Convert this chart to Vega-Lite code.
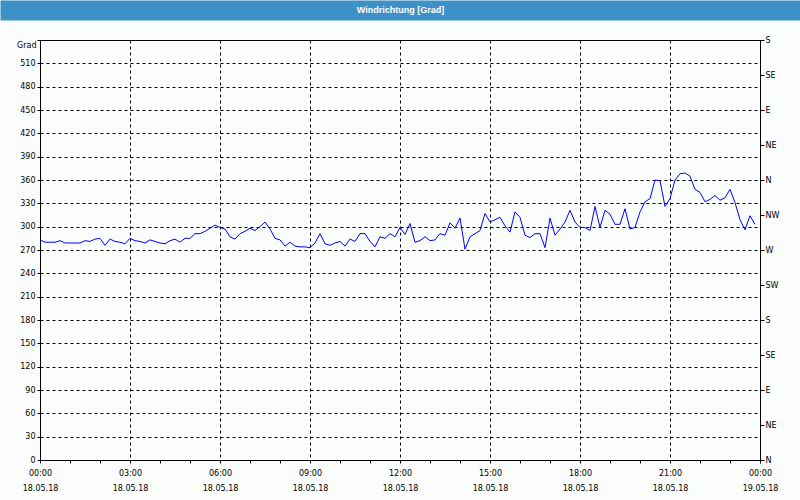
{
  "$schema": "https://vega.github.io/schema/vega-lite/v6.json",
  "autosize": "none",
  "width": 720,
  "height": 420,
  "padding": {"left": 40, "top": 40, "right": 40, "bottom": 40},
  "background": "#fafdfb",
  "config": {
    "view": {"stroke": "#000000", "strokeWidth": 1},
    "axis": {
      "labelFont": "DejaVu Sans",
      "labelFontSize": 8,
      "labelColor": "#000000",
      "titleFont": "DejaVu Sans",
      "titleFontSize": 8,
      "titleFontWeight": "normal",
      "titleColor": "#000000",
      "domainColor": "#000000",
      "tickColor": "#000000",
      "gridColor": "#000000",
      "gridDash": [3, 3],
      "gridOpacity": 1,
      "gridWidth": 1
    }
  },
  "data": {
    "values": [
      {"t": "2018-05-18T00:00", "v": 283}, {"t": "2018-05-18T00:10", "v": 280}, {"t": "2018-05-18T00:20", "v": 280}, {"t": "2018-05-18T00:30", "v": 280},
      {"t": "2018-05-18T00:40", "v": 282}, {"t": "2018-05-18T00:50", "v": 279}, {"t": "2018-05-18T01:00", "v": 279}, {"t": "2018-05-18T01:10", "v": 279},
      {"t": "2018-05-18T01:20", "v": 279}, {"t": "2018-05-18T01:30", "v": 282}, {"t": "2018-05-18T01:40", "v": 281}, {"t": "2018-05-18T01:50", "v": 284},
      {"t": "2018-05-18T02:00", "v": 285}, {"t": "2018-05-18T02:10", "v": 276}, {"t": "2018-05-18T02:20", "v": 284}, {"t": "2018-05-18T02:30", "v": 281},
      {"t": "2018-05-18T02:40", "v": 280}, {"t": "2018-05-18T02:50", "v": 278}, {"t": "2018-05-18T03:00", "v": 285}, {"t": "2018-05-18T03:10", "v": 282},
      {"t": "2018-05-18T03:20", "v": 281}, {"t": "2018-05-18T03:30", "v": 279}, {"t": "2018-05-18T03:40", "v": 283}, {"t": "2018-05-18T03:50", "v": 281},
      {"t": "2018-05-18T04:00", "v": 279}, {"t": "2018-05-18T04:10", "v": 278}, {"t": "2018-05-18T04:20", "v": 282}, {"t": "2018-05-18T04:30", "v": 284},
      {"t": "2018-05-18T04:40", "v": 280}, {"t": "2018-05-18T04:50", "v": 285}, {"t": "2018-05-18T05:00", "v": 285}, {"t": "2018-05-18T05:10", "v": 291},
      {"t": "2018-05-18T05:20", "v": 291}, {"t": "2018-05-18T05:30", "v": 294}, {"t": "2018-05-18T05:40", "v": 298}, {"t": "2018-05-18T05:50", "v": 302},
      {"t": "2018-05-18T06:00", "v": 299}, {"t": "2018-05-18T06:10", "v": 297}, {"t": "2018-05-18T06:20", "v": 287}, {"t": "2018-05-18T06:30", "v": 284},
      {"t": "2018-05-18T06:40", "v": 291}, {"t": "2018-05-18T06:50", "v": 294}, {"t": "2018-05-18T07:00", "v": 298}, {"t": "2018-05-18T07:10", "v": 295},
      {"t": "2018-05-18T07:20", "v": 300}, {"t": "2018-05-18T07:30", "v": 306}, {"t": "2018-05-18T07:40", "v": 297}, {"t": "2018-05-18T07:50", "v": 285},
      {"t": "2018-05-18T08:00", "v": 283}, {"t": "2018-05-18T08:10", "v": 275}, {"t": "2018-05-18T08:20", "v": 280}, {"t": "2018-05-18T08:30", "v": 275},
      {"t": "2018-05-18T08:40", "v": 274}, {"t": "2018-05-18T08:50", "v": 274}, {"t": "2018-05-18T09:00", "v": 273}, {"t": "2018-05-18T09:10", "v": 279},
      {"t": "2018-05-18T09:20", "v": 291}, {"t": "2018-05-18T09:30", "v": 278}, {"t": "2018-05-18T09:40", "v": 276}, {"t": "2018-05-18T09:50", "v": 279},
      {"t": "2018-05-18T10:00", "v": 281}, {"t": "2018-05-18T10:10", "v": 275}, {"t": "2018-05-18T10:20", "v": 284}, {"t": "2018-05-18T10:30", "v": 281},
      {"t": "2018-05-18T10:40", "v": 291}, {"t": "2018-05-18T10:50", "v": 291}, {"t": "2018-05-18T11:00", "v": 281}, {"t": "2018-05-18T11:10", "v": 274},
      {"t": "2018-05-18T11:20", "v": 287}, {"t": "2018-05-18T11:30", "v": 285}, {"t": "2018-05-18T11:40", "v": 291}, {"t": "2018-05-18T11:50", "v": 287},
      {"t": "2018-05-18T12:00", "v": 299}, {"t": "2018-05-18T12:10", "v": 290}, {"t": "2018-05-18T12:20", "v": 304}, {"t": "2018-05-18T12:30", "v": 280},
      {"t": "2018-05-18T12:40", "v": 282}, {"t": "2018-05-18T12:50", "v": 287}, {"t": "2018-05-18T13:00", "v": 282}, {"t": "2018-05-18T13:10", "v": 283},
      {"t": "2018-05-18T13:20", "v": 291}, {"t": "2018-05-18T13:30", "v": 289}, {"t": "2018-05-18T13:40", "v": 305}, {"t": "2018-05-18T13:50", "v": 298},
      {"t": "2018-05-18T14:00", "v": 311}, {"t": "2018-05-18T14:10", "v": 271}, {"t": "2018-05-18T14:20", "v": 287}, {"t": "2018-05-18T14:30", "v": 291},
      {"t": "2018-05-18T14:40", "v": 295}, {"t": "2018-05-18T14:50", "v": 317}, {"t": "2018-05-18T15:00", "v": 306}, {"t": "2018-05-18T15:10", "v": 309},
      {"t": "2018-05-18T15:20", "v": 312}, {"t": "2018-05-18T15:30", "v": 301}, {"t": "2018-05-18T15:40", "v": 293}, {"t": "2018-05-18T15:50", "v": 319},
      {"t": "2018-05-18T16:00", "v": 312}, {"t": "2018-05-18T16:10", "v": 289}, {"t": "2018-05-18T16:20", "v": 286}, {"t": "2018-05-18T16:30", "v": 291},
      {"t": "2018-05-18T16:40", "v": 291}, {"t": "2018-05-18T16:50", "v": 273}, {"t": "2018-05-18T17:00", "v": 311}, {"t": "2018-05-18T17:10", "v": 289},
      {"t": "2018-05-18T17:20", "v": 297}, {"t": "2018-05-18T17:30", "v": 306}, {"t": "2018-05-18T17:40", "v": 321}, {"t": "2018-05-18T17:50", "v": 306},
      {"t": "2018-05-18T18:00", "v": 299}, {"t": "2018-05-18T18:10", "v": 299}, {"t": "2018-05-18T18:20", "v": 295}, {"t": "2018-05-18T18:30", "v": 326},
      {"t": "2018-05-18T18:40", "v": 299}, {"t": "2018-05-18T18:50", "v": 321}, {"t": "2018-05-18T19:00", "v": 316}, {"t": "2018-05-18T19:10", "v": 303},
      {"t": "2018-05-18T19:20", "v": 303}, {"t": "2018-05-18T19:30", "v": 323}, {"t": "2018-05-18T19:40", "v": 297}, {"t": "2018-05-18T19:50", "v": 299},
      {"t": "2018-05-18T20:00", "v": 319}, {"t": "2018-05-18T20:10", "v": 332}, {"t": "2018-05-18T20:20", "v": 336}, {"t": "2018-05-18T20:30", "v": 360},
      {"t": "2018-05-18T20:40", "v": 359}, {"t": "2018-05-18T20:50", "v": 326}, {"t": "2018-05-18T21:00", "v": 336}, {"t": "2018-05-18T21:10", "v": 360},
      {"t": "2018-05-18T21:20", "v": 368}, {"t": "2018-05-18T21:30", "v": 369}, {"t": "2018-05-18T21:40", "v": 365}, {"t": "2018-05-18T21:50", "v": 348},
      {"t": "2018-05-18T22:00", "v": 344}, {"t": "2018-05-18T22:10", "v": 332}, {"t": "2018-05-18T22:20", "v": 335}, {"t": "2018-05-18T22:30", "v": 340},
      {"t": "2018-05-18T22:40", "v": 334}, {"t": "2018-05-18T22:50", "v": 337}, {"t": "2018-05-18T23:00", "v": 348}, {"t": "2018-05-18T23:10", "v": 331},
      {"t": "2018-05-18T23:20", "v": 309}, {"t": "2018-05-18T23:30", "v": 296}, {"t": "2018-05-18T23:40", "v": 314}, {"t": "2018-05-18T23:50", "v": 303}
    ]
  },
  "layer": [
    {
      "mark": {"type": "line", "color": "#0000ff", "strokeWidth": 1, "clip": true},
      "encoding": {
        "x": {
          "field": "t", "type": "temporal",
          "scale": {"domain": ["2018-05-18T00:00", "2018-05-19T00:00"]},
          "axis": {
            "orient": "bottom",
            "title": null,
            "tickCount": 24,
            "tickSize": 3,
            "labelPadding": 6,
            "labelBaseline": "top",
            "labelLineHeight": 15,
            "labelFlush": false,
            "labelBound": false,
            "labelOverlap": false,
            "labelExpr": "hours(datum.value) % 3 == 0 ? [timeFormat(datum.value, '%H:%M'), timeFormat(datum.value, '%d.%m.%y')] : ''",
            "grid": true,
            "gridOpacity": {"condition": {"test": "hours(datum.value) % 3 == 0", "value": 1}, "value": 0}
          }
        },
        "y": {
          "field": "v", "type": "quantitative",
          "scale": {"domain": [0, 540], "nice": false, "zero": false},
          "axis": {
            "orient": "left",
            "values": [0, 30, 60, 90, 120, 150, 180, 210, 240, 270, 300, 330, 360, 390, 420, 450, 480, 510, 540],
            "labelExpr": "datum.value == 540 ? '' : datum.label",
            "tickSize": 3,
            "labelPadding": 2,
            "grid": true,
            "title": "Grad",
            "titleAngle": 0,
            "titleX": -4,
            "titleY": 5,
            "titleAlign": "right",
            "titleBaseline": "middle"
          }
        }
      }
    },
    {
      "mark": {"type": "line", "opacity": 0},
      "encoding": {
        "x": {
          "field": "t", "type": "temporal",
          "axis": {
            "orient": "top",
            "values": ["2018-05-18T12:00"],
            "domain": false,
            "labels": false,
            "grid": false,
            "ticks": true,
            "tickSize": 20,
            "tickWidth": 800,
            "tickColor": "#3c91c8",
            "offset": 20,
            "title": "Windrichtung [Grad]",
            "titleColor": "#ffffff",
            "titleFont": "Liberation Sans",
            "titleFontSize": 9,
            "titleFontWeight": "bold",
            "titleX": 360,
            "titleY": -11,
            "titleAlign": "center",
            "titleBaseline": "middle"
          }
        },
        "y": {
          "field": "v", "type": "quantitative",
          "scale": {"domain": [0, 540], "nice": false, "zero": false},
          "axis": {
            "orient": "right",
            "values": [0, 45, 90, 135, 180, 225, 270, 315, 360, 405, 450, 495, 540],
            "labelExpr": "datum.value % 360 == 0 ? 'N' : datum.value % 360 == 45 ? 'NE' : datum.value % 360 == 90 ? 'E' : datum.value % 360 == 135 ? 'SE' : datum.value % 360 == 180 ? 'S' : datum.value % 360 == 225 ? 'SW' : datum.value % 360 == 270 ? 'W' : 'NW'",
            "tickSize": 4,
            "labelPadding": 1,
            "grid": false,
            "title": null
          }
        }
      }
    }
  ],
  "resolve": {"scale": {"y": "independent"}, "axis": {"x": "independent", "y": "independent"}}
}
